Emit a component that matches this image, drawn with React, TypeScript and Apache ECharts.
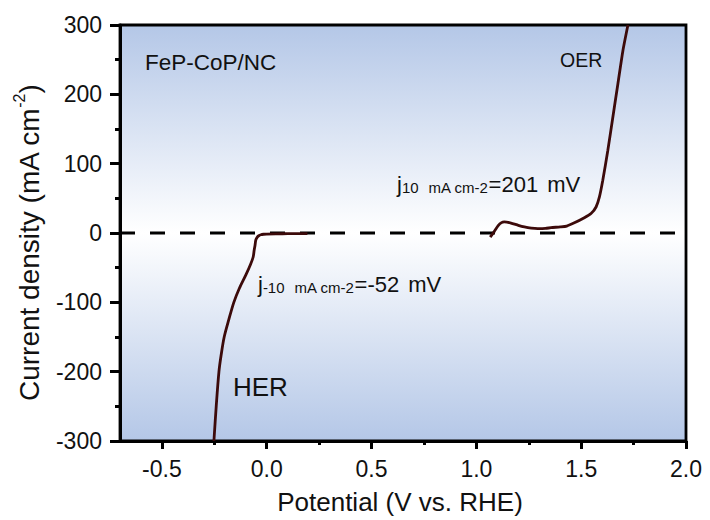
import React, { useEffect, useRef } from "react";
import * as echarts from "echarts";

// HER branch of the LSV curve (potential in V vs. RHE, current density in mA cm-2)
const herPotential = [
  -0.252, -0.241, -0.228, -0.217, -0.203, -0.181, -0.157, -0.131, -0.099, -0.077,
  -0.065, -0.06, -0.056, -0.052, -0.045, -0.038, -0.028, -0.015, 0.0, 0.05,
  0.1, 0.15, 0.194,
];
const herCurrent = [
  -300, -250, -200, -175, -150, -125, -100, -80, -60, -45,
  -35, -25, -18, -10, -6, -4, -2.5, -1.8, -1.5, -1.2,
  -1, -0.8, -0.8,
];

// OER branch of the LSV curve
const oerPotential = [
  1.066, 1.085, 1.105, 1.12, 1.133, 1.165, 1.2, 1.229, 1.262, 1.293, 1.33, 1.356,
  1.4, 1.431, 1.47, 1.515, 1.547, 1.571, 1.587, 1.603, 1.627, 1.651, 1.675, 1.699,
  1.723,
];
const oerCurrent = [
  -6, 2, 11, 15, 16, 14.4, 11, 8.7, 7, 6.3, 6.6, 7.7,
  8.8, 10, 15, 22, 28, 37.5, 52, 76, 119, 167, 215, 263,
  300,
];

// dashed reference line at j = 0
const zeroLineX = [-0.7, 2.0];
const zeroLineY = [0, 0];

const xMajorTicks = [-0.5, 0.0, 0.5, 1.0, 1.5, 2.0];
const xMinorTicks = [-0.25, 0.25, 0.75, 1.25, 1.75];

const FONT = "'Liberation Sans', Arial, Helvetica, sans-serif";
const CURVE = "#3c0a0a";

export default function App() {
  const ref = useRef<HTMLDivElement>(null);

  useEffect(() => {
    document.body.style.margin = "0";
    if (!ref.current) return;
    const chart = echarts.init(ref.current, null, { renderer: "svg" });

    const toPairs = (xs: number[], ys: number[]) => xs.map((x, i) => [x, ys[i]]);

    const labelRich = {
      m: { fontSize: 22, fontFamily: FONT, fill: "#111", lineHeight: 26, verticalAlign: "bottom" },
      s: { fontSize: 15, fontFamily: FONT, fill: "#111", lineHeight: 12, verticalAlign: "bottom" },
      t: { fontSize: 15, fontFamily: FONT, fill: "#111", lineHeight: 12, verticalAlign: "bottom", padding: [0, 0, 0, 10] },
      u: { fontSize: 22, fontFamily: FONT, fill: "#111", lineHeight: 26, verticalAlign: "bottom", padding: [0, 0, 0, 9] },
    };

    chart.setOption({
      animation: false,
      grid: {
        left: 120,
        right: 24,
        top: 25,
        bottom: 79,
        show: true,
        backgroundColor: new echarts.graphic.LinearGradient(0, 0, 0, 1, [
          { offset: 0, color: "#b4c7e7" },
          { offset: 0.5, color: "#ffffff" },
          { offset: 1, color: "#b4c7e7" },
        ]),
        borderColor: "#000",
        borderWidth: 2.8,
      },
      xAxis: [
        {
          type: "value",
          min: -0.7,
          max: 2.0,
          position: "bottom",
          name: "Potential (V vs. RHE)",
          nameLocation: "middle",
          nameGap: 48,
          nameTextStyle: { fontSize: 26, fontFamily: FONT, color: "#111", padding: [0, 6, 0, 0] },
          axisLine: { onZero: false, lineStyle: { color: "#000", width: 3 } },
          axisTick: { customValues: xMajorTicks, length: 8, lineStyle: { color: "#000", width: 3 } },
          axisLabel: {
            customValues: xMajorTicks,
            formatter: (v: number) => v.toFixed(1),
            fontSize: 23,
            fontFamily: FONT,
            color: "#111",
            margin: 16,
          },
          splitLine: { show: false },
        },
        {
          type: "value",
          min: -0.7,
          max: 2.0,
          position: "bottom",
          axisLine: { show: false, onZero: false },
          axisTick: { customValues: xMinorTicks, length: 4, lineStyle: { color: "#000", width: 3 } },
          axisLabel: { show: false },
          splitLine: { show: false },
        },
      ],
      yAxis: {
        type: "value",
        min: -300,
        max: 300,
        interval: 100,
        axisLine: { show: true, onZero: false, lineStyle: { color: "#000", width: 3 } },
        axisTick: { show: true, length: 10, lineStyle: { color: "#000", width: 3 } },
        minorTick: { show: true, splitNumber: 2, length: 5, lineStyle: { color: "#000", width: 3 } },
        axisLabel: { fontSize: 23, fontFamily: FONT, color: "#111", margin: 18 },
        splitLine: { show: false },
        minorSplitLine: { show: false },
      },
      series: [
        {
          name: "zero",
          type: "line",
          data: toPairs(zeroLineX, zeroLineY),
          symbol: "none",
          lineStyle: { color: "#000", width: 3, type: [15, 15] },
          z: 2,
        },
        {
          name: "HER",
          type: "line",
          data: toPairs(herPotential, herCurrent),
          symbol: "none",
          smooth: 0.3,
          lineStyle: { color: CURVE, width: 2.8 },
          z: 3,
        },
        {
          name: "OER",
          type: "line",
          data: toPairs(oerPotential, oerCurrent),
          symbol: "none",
          smooth: 0.2,
          lineStyle: { color: CURVE, width: 2.8 },
          z: 3,
        },
      ],
      graphic: [
        {
          // y-axis title, rotated to read bottom-to-top
          type: "text",
          x: 27,
          y: 243,
          rotation: Math.PI / 2,
          style: {
            text: "{a|Current density (mA cm}{b|-2}{a|)}",
            rich: {
              a: { fontSize: 28, fontFamily: FONT, fill: "#111", lineHeight: 32, verticalAlign: "bottom" },
              b: { fontSize: 16, fontFamily: FONT, fill: "#111", lineHeight: 14, verticalAlign: "top" },
            },
            textAlign: "center",
            textVerticalAlign: "middle",
          },
          z: 10,
        },
        {
          type: "text",
          x: 145,
          y: 62,
          style: { text: "FeP-CoP/NC", fontSize: 22.5, fontFamily: FONT, fill: "#111", textVerticalAlign: "middle" },
          z: 10,
        },
        {
          type: "text",
          x: 560,
          y: 60,
          style: { text: "OER", fontSize: 19.5, fontFamily: FONT, fill: "#111", textVerticalAlign: "middle" },
          z: 10,
        },
        {
          type: "text",
          x: 233,
          y: 387,
          style: { text: "HER", fontSize: 26, fontFamily: FONT, fill: "#111", textVerticalAlign: "middle" },
          z: 10,
        },
        {
          type: "text",
          x: 397,
          y: 182,
          style: {
            text: "{m|j}{s|10}{t|mA cm-2}{m|=201}{u|mV}",
            rich: labelRich,
            textVerticalAlign: "middle",
          },
          z: 10,
        },
        {
          type: "text",
          x: 258,
          y: 282,
          style: {
            text: "{m|j}{s|-10}{t|mA cm-2}{m|=-52}{u|mV}",
            rich: labelRich,
            textVerticalAlign: "middle",
          },
          z: 10,
        },
      ],
    });

    return () => chart.dispose();
  }, []);

  return <div ref={ref} style={{ width: 710, height: 520 }} />;
}
